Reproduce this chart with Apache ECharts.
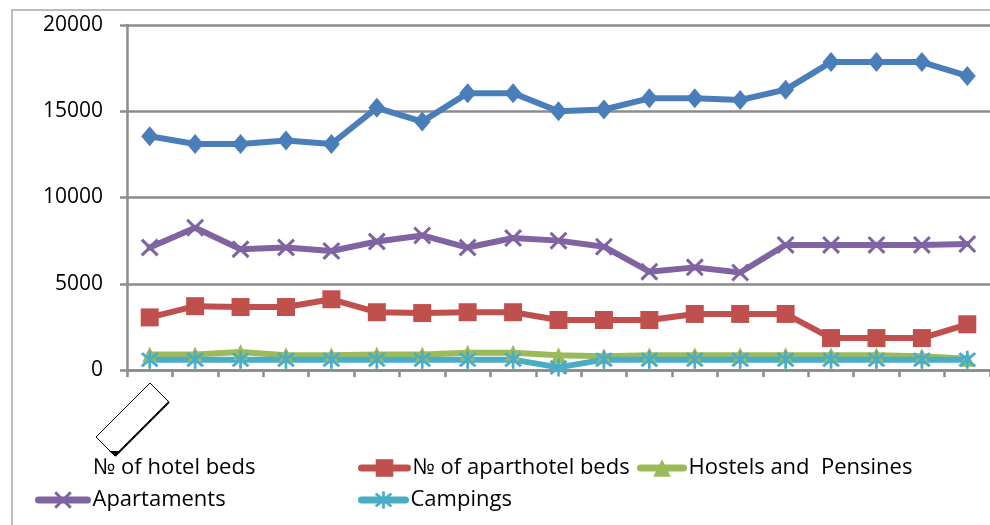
<!DOCTYPE html>
<html>
<head>
<meta charset="utf-8">
<script src="https://cdn.jsdelivr.net/npm/echarts@6/dist/echarts.min.js"></script>
<style>
  html, body { margin: 0; padding: 0; background: #fff; }
  #chart { width: 990px; height: 525px; }
</style>
</head>
<body>
<div id="chart"></div>
<script>
// Bed counts by accommodation type over 19 periods
const periods = ['1', '2', '3', '4', '5', '6', '7', '8', '9', '10',
                 '11', '12', '13', '14', '15', '16', '17', '18', '19'];
const hotelBeds = [13550, 13100, 13100, 13300, 13100, 15200, 14400, 16050, 16050, 15000,
                   15100, 15750, 15750, 15650, 16250, 17850, 17850, 17850, 17050];
const aparthotelBeds = [3050, 3700, 3650, 3650, 4100, 3350, 3300, 3350, 3350, 2900,
                        2900, 2900, 3250, 3250, 3250, 1850, 1850, 1850, 2650];
const hostelsPensines = [900, 900, 1050, 850, 850, 900, 900, 1000, 1000, 850,
                         800, 850, 850, 850, 850, 850, 850, 800, 650];
const apartaments = [7100, 8250, 7000, 7100, 6900, 7450, 7800, 7100, 7650, 7500,
                     7150, 5700, 5950, 5650, 7250, 7250, 7250, 7250, 7300];
const campings = [600, 600, 600, 600, 600, 600, 600, 600, 600, 150,
                  600, 600, 600, 600, 600, 600, 600, 600, 600];
const yTicks = { min: 0, max: 20000, step: 5000 };

const names = {
  hotel: '№ of hotel beds',
  aparthotel: '№ of aparthotel beds',
  hostels: 'Hostels and  Pensines',
  apartaments: 'Apartaments',
  campings: 'Campings'
};

// Marker shapes: a cross and a six-armed star
const crossPath = 'path://M0,1.2 L1.2,0 L5,3.8 L8.8,0 L10,1.2 L6.2,5 L10,8.8 L8.8,10 L5,6.2 L1.2,10 L0,8.8 L3.8,5 Z';
const starPath = 'path://M0,1.2 L1.2,0 L5,3.8 L8.8,0 L10,1.2 L6.2,5 L10,8.8 L8.8,10 L5,6.2 L1.2,10 L0,8.8 L3.8,5 Z ' +
                 'M4.25,-1 L5.75,-1 L5.75,11 L4.25,11 Z';

const FONT = '"Open Sans", "Noto Sans", sans-serif';
const AXIS_GRAY = '#8c8c8c';

function lineSeries(name, data, color, symbol, symbolSize) {
  return {
    name: name,
    type: 'line',
    data: data,
    symbol: symbol,
    symbolSize: symbolSize,
    showAllSymbol: true,
    lineStyle: { color: color, width: 6, cap: 'round', join: 'round' },
    itemStyle: { color: color, borderWidth: 0 },
    emphasis: { disabled: true },
    animation: false
  };
}

function legendAt(name, left, top, itemWidth, hideIcon) {
  const l = {
    data: [name],
    left: left,
    top: top,
    padding: 0,
    itemWidth: itemWidth,
    itemHeight: 22,
    itemGap: 0,
    selectedMode: false,
    lineStyle: { width: 7, cap: 'round' },
    textStyle: { fontFamily: FONT, fontSize: 22, color: '#000', lineHeight: 26 }
  };
  if (hideIcon) {
    l.itemStyle = { opacity: 0 };
    l.lineStyle = { opacity: 0 };
  }
  return l;
}

const chart = echarts.init(document.getElementById('chart'), null, { renderer: 'canvas' });

chart.setOption({
  backgroundColor: '#ffffff',
  animation: false,
  grid: { left: 127, top: 25, right: 0, bottom: 155, containLabel: false },
  legend: [
    legendAt(names.hotel, 35, 455, 52, true),
    legendAt(names.aparthotel, 358, 455, 46, false),
    legendAt(names.hostels, 637, 455, 43, false),
    legendAt(names.apartaments, 35, 487, 49, false),
    legendAt(names.campings, 358, 487, 44, false)
  ],
  xAxis: {
    type: 'category',
    data: periods,
    boundaryGap: true,
    axisLine: { show: true, lineStyle: { color: AXIS_GRAY, width: 2.5 } },
    axisTick: { show: true, length: 7, lineStyle: { color: AXIS_GRAY, width: 2.5 } },
    axisLabel: { show: false },
    splitLine: { show: false }
  },
  yAxis: {
    type: 'value',
    min: yTicks.min,
    max: yTicks.max,
    interval: yTicks.step,
    axisLine: { show: true, lineStyle: { color: AXIS_GRAY, width: 2.5 } },
    axisTick: { show: true, length: 7, lineStyle: { color: AXIS_GRAY, width: 2.5 } },
    axisLabel: {
      fontFamily: FONT, fontSize: 21, color: '#000', margin: 24,
      formatter: function (v) { return String(v); }
    },
    splitLine: { show: true, lineStyle: { color: AXIS_GRAY, width: 2.5 } }
  },
  graphic: [
    // outer chart-area frame
    {
      type: 'rect', z: -10, silent: true,
      shape: { x: 12, y: 10, width: 1000, height: 600 },
      style: { fill: 'none', stroke: '#a6a6a6', lineWidth: 1.5 }
    },
    // tilted empty label box below the axis
    {
      type: 'polygon', z: 10, silent: true,
      shape: { points: [[150, 383], [169, 402], [115, 456], [96, 437]] },
      style: { fill: '#ffffff', stroke: '#000000', lineWidth: 1 }
    },
    {
      type: 'polyline', z: 11, silent: true,
      shape: { points: [[169, 402], [115, 456]] },
      style: { stroke: '#000000', lineWidth: 2 }
    },
    {
      type: 'polygon', z: 11, silent: true,
      shape: { points: [[109, 451], [121, 451], [115, 456]] },
      style: { fill: '#000000' }
    }
  ],
  series: [
    lineSeries(names.hotel, hotelBeds, '#4a7ebb', 'diamond', [17, 20]),
    lineSeries(names.aparthotel, aparthotelBeds, '#c0504d', 'rect', 18),
    lineSeries(names.hostels, hostelsPensines, '#9bbb59', 'triangle', [15, 16]),
    lineSeries(names.apartaments, apartaments, '#8064a2', crossPath, 18),
    lineSeries(names.campings, campings, '#4bacc6', starPath, 18)
  ]
});
</script>
</body>
</html>
